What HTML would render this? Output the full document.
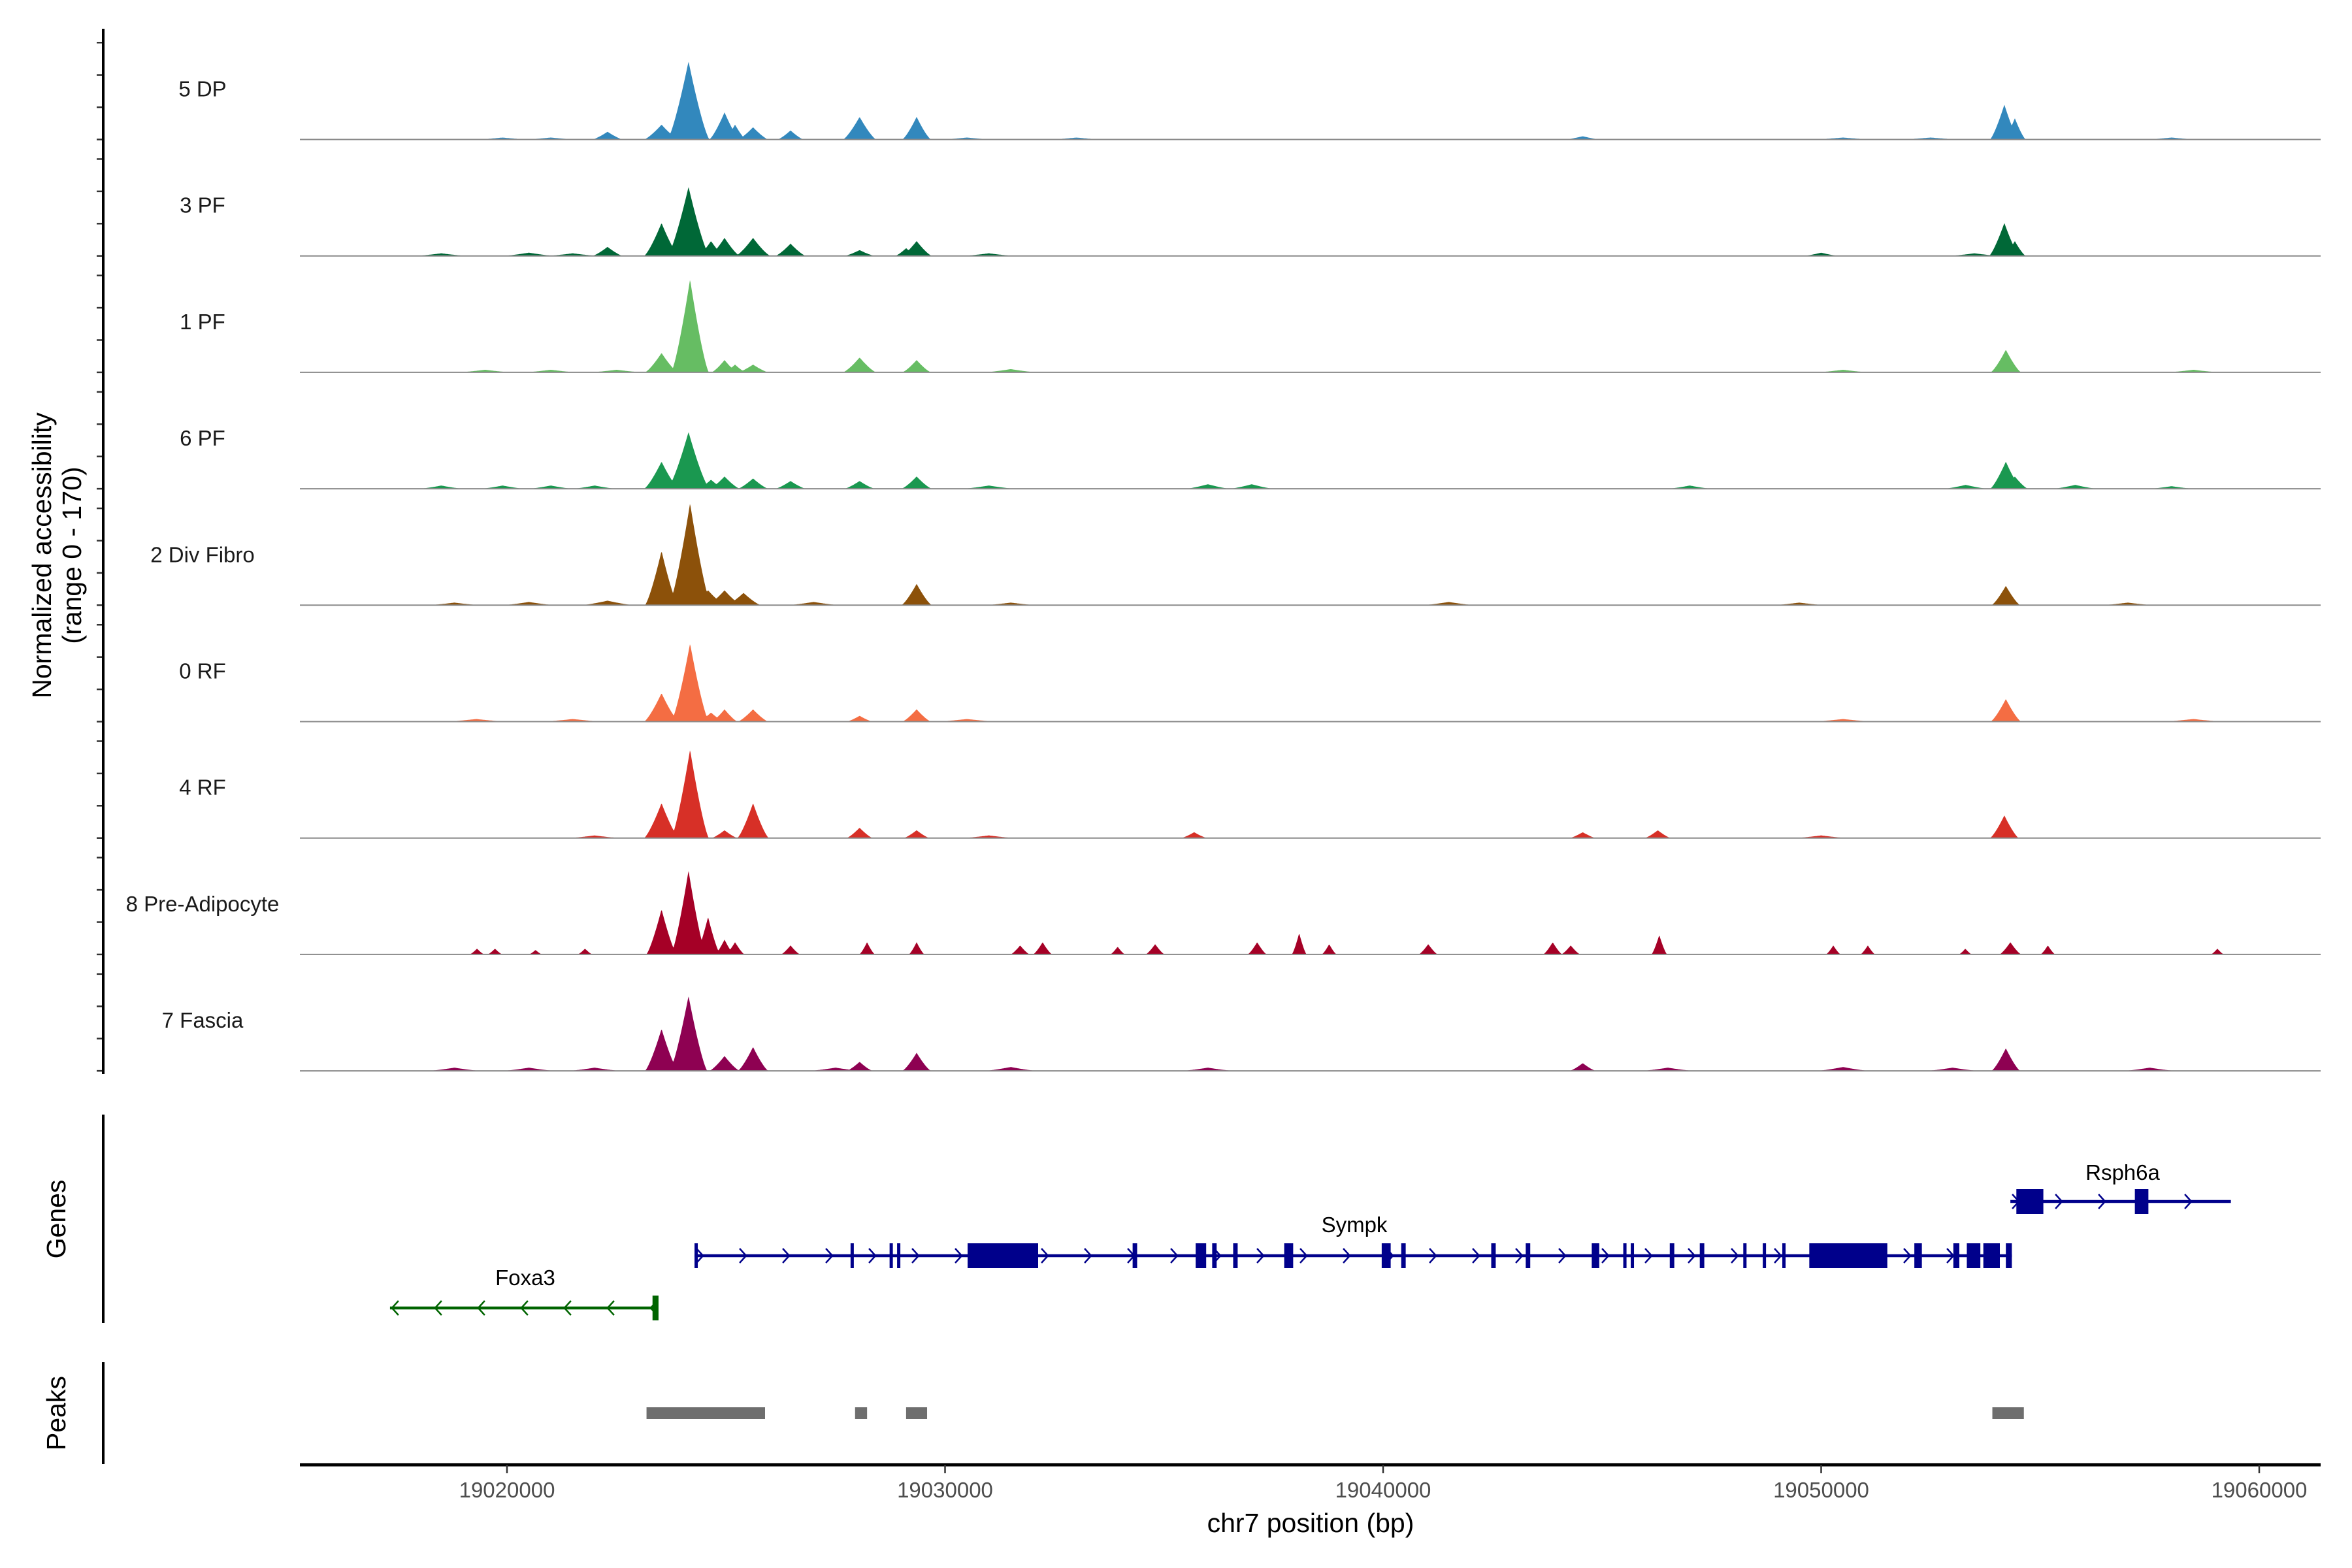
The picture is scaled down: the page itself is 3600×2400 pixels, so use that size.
<!DOCTYPE html>
<html><head><meta charset="utf-8"><style>
html,body{margin:0;padding:0;background:#fff}
svg{display:block}
text{font-family:"Liberation Sans",Arial,sans-serif}
</style></head><body>
<svg id="chart" xmlns="http://www.w3.org/2000/svg" width="3600" height="2400" viewBox="0 0 3600 2400">
<rect width="3600" height="2400" fill="#fff"/>
<g id="tracks"></g>
<g id="genes"></g>
<g id="peaks"></g>
<g id="axes"></g>
</svg>
<script>
const trackNames = ["5 DP","3 PF","1 PF","6 PF","2 Div Fibro","0 RF","4 RF","8 Pre-Adipocyte","7 Fascia"];
const trackColors = ["#3288bd","#006837","#66bd63","#1a9850","#8c510a","#f46d43","#d73027","#a50026","#8e0152"];
// peak centers (bp), heights (0-170 range), half-widths (bp) per track
const peakPos = [
 [19022295,19023528,19023836,19024144,19024966,19025206,19025617,19026473,19028049,19029351,19054182,19054421,19019900,19021000,19030500,19033000,19044557,19050500,19052500,19058000],
 [19022295,19023528,19024144,19024658,19024966,19025617,19026473,19028049,19029111,19029351,19054182,19054421,19018500,19020500,19021500,19031000,19050000,19053500],
 [19023528,19024179,19024966,19025206,19025617,19028049,19029351,19054216,19019500,19021000,19022500,19031500,19050500,19058500],
 [19023528,19024144,19024658,19024966,19025617,19026473,19028049,19029351,19054216,19054421,19018500,19019900,19021000,19022000,19031000,19036000,19037000,19047000,19053300,19055800,19058000],
 [19023528,19024179,19024590,19024966,19025400,19029351,19054216,19018800,19020500,19022295,19027000,19031500,19041500,19049500,19057000],
 [19023528,19024179,19024658,19024966,19025617,19028049,19029351,19054216,19019300,19021500,19030500,19050500,19058500],
 [19023528,19024179,19024966,19025617,19028049,19029351,19054182,19035687,19044557,19046270,19022000,19031000,19050000],
 [19023528,19024144,19024590,19024966,19025206,19026473,19028220,19029351,19054319,19019315,19019726,19020651,19021781,19031714,19032227,19033940,19034796,19037125,19038084,19038769,19041030,19043872,19044283,19046304,19050277,19051065,19053291,19055175,19059045],
 [19023528,19024144,19024966,19025617,19028049,19029351,19054216,19044557,19018800,19020500,19022000,19027500,19031500,19036000,19046500,19050500,19053000,19057500]
];
const peakHeight = [
 [12,23,14,121,42,23,19,14,35,35,54,33,3,3,3,3,5,3,3,3],
 [14,51,107,23,28,28,19,9,12,23,51,23,4,5,4,4,5,4],
 [30,144,19,12,12,23,19,35,4,4,4,5,4,4],
 [42,88,14,19,16,12,12,19,42,19,5,5,5,5,5,7,7,5,6,6,4],
 [84,158,23,23,19,33,30,4,5,7,5,4,5,4,4],
 [44,121,14,19,19,9,19,35,4,4,4,4,4],
 [54,137,12,54,16,12,35,9,9,12,4,4,4],
 [70,130,58,23,19,14,19,19,19,9,9,7,9,14,19,12,16,19,33,16,16,19,14,30,14,14,9,14,9],
 [65,116,23,37,14,28,35,12,5,5,5,5,6,5,5,6,5,5]
];
const peakWidth = [
 [350,400,250,480,350,250,350,300,380,330,330,250,600,600,600,600,400,700,700,600],
 [350,400,480,300,350,400,350,350,250,350,350,250,600,600,600,600,400,600],
 [380,430,300,250,350,380,330,350,600,600,600,600,600,600],
 [400,480,300,350,350,350,350,350,360,300,500,500,500,500,600,500,500,500,500,500,500],
 [380,480,400,400,400,350,330,600,600,600,600,600,600,600,600],
 [400,430,300,300,350,300,330,350,700,700,700,700,700],
 [400,430,300,360,300,300,330,300,300,300,600,600,600],
 [350,400,280,220,220,220,180,180,250,170,170,150,170,220,220,170,220,220,170,170,220,220,220,180,170,170,150,170,150],
 [380,430,350,350,300,330,330,300,600,600,600,600,600,600,600,600,600,600]
];
const xTicks = [19020000,19030000,19040000,19050000,19060000];
const yTicks = [0,50,100,150];
const sympkExonStart = [19024281,19027843,19028734,19028905,19030515,19034282,19035721,19036098,19036577,19037742,19039968,19040413,19042468,19043256,19044763,19045482,19045653,19046544,19047229,19048222,19048667,19049113,19049729,19052127,19053017,19053325,19053702,19054216];
const sympkExonEnd   = [19024350,19027912,19028802,19028974,19032125,19034385,19035961,19036200,19036680,19037947,19040173,19040516,19042571,19043359,19044934,19045551,19045722,19046647,19047332,19048291,19048736,19049181,19051510,19052299,19053154,19053634,19054079,19054353];
const rsphExonStart = [19054456,19057161];
const rsphExonEnd = [19055072,19057470];
const foxaExonStart = [19023322];
const foxaExonEnd = [19023459];
const peakRegionStart = [19023185,19027946,19029111,19053908];
const peakRegionEnd = [19025891,19028220,19029590,19054627];

const NS='http://www.w3.org/2000/svg';
const X0=459, X1=3552, BP0=19015272, BP1=19061402;
const xs = bp => X0 + (bp-BP0)*(X1-X0)/(BP1-BP0);
const base0=213.5, step=178.2, yPx=168/170;
function mk(tag, attrs, parent){const e=document.createElementNS(NS,tag);for(const k in attrs)e.setAttribute(k,attrs[k]);parent.appendChild(e);return e;}
const tracks=document.getElementById('tracks');
const axes=document.getElementById('axes');

trackNames.forEach((name,i)=>{
  const base=base0+i*step;
  const g=mk('g',{},tracks);
  
  
  let d='M'+X0+','+base;
  for(let px=X0; px<=X1; px+=1){
    const bp=BP0+(px-X0)*(BP1-BP0)/(X1-X0);
    let v=0;
    peakPos[i].forEach((c,k)=>{
      const dd=Math.abs(bp-c)/peakWidth[i][k];
      if(dd<1){const s=peakHeight[i][k]*Math.pow(1-dd,1.3);if(s>v)v=s;}
    });
    d+=' L'+px+','+(base-v*yPx).toFixed(1);
  }
  d+=' L'+X1+','+base+' Z';
  const p=mk('path',{d:d,fill:trackColors[i]},g);
  
  
  const bl=mk('line',{x1:X0,x2:X1,y1:base,y2:base,stroke:'#8a8a8a','stroke-width':2},g);
  
  
  const t=mk('text',{x:310,y:base-66,'font-size':33,'text-anchor':'middle',fill:'#1a1a1a'},g);
  t.textContent=name;
  
  
  yTicks.forEach(v=>{
    const tk=mk('line',{x1:148,x2:158,y1:base-v*yPx,y2:base-v*yPx,stroke:'#333','stroke-width':2.5},axes);
    
    
  });
});
let ya=mk('line',{x1:158,x2:158,y1:44,y2:1644,stroke:'#000','stroke-width':4},axes);


let yt=mk('text',{transform:'translate(78,850) rotate(-90)','font-size':41,'text-anchor':'middle',fill:'#000'},axes);
yt.textContent='Normalized accessibility';


let yt2=mk('text',{transform:'translate(124,850) rotate(-90)','font-size':41,'text-anchor':'middle',fill:'#000'},axes);
yt2.textContent='(range 0 - 170)';



const genes=document.getElementById('genes');
function gene(name, start, end, y, starts, ends, color, dir, lx, ly){
  const g=mk('g',{},genes);
  
  
  mk('line',{x1:xs(start),x2:xs(end),y1:y,y2:y,stroke:color,'stroke-width':4.5},g);
  for(let px=xs(start)+8; px<xs(end); px+=66){
    const a=dir>0?`M${px-5},${y-11} L${px+5},${y} L${px-5},${y+11}`:`M${px+5},${y-11} L${px-5},${y} L${px+5},${y+11}`;
    mk('path',{d:a,fill:'none',stroke:color,'stroke-width':2.5},g);
  }
  starts.forEach((s,k)=>{
    const x1=xs(s), w=Math.max(5,xs(ends[k])-x1);
    const r=mk('rect',{x:x1,y:y-19,width:w,height:38,fill:color},g);
    
    
  });
  const t=mk('text',{x:lx,y:ly,'font-size':33,'text-anchor':'middle',fill:'#000'},g);
  t.textContent=name;
  
  
}
gene('Sympk',19024281,19054353,1922,sympkExonStart,sympkExonEnd,'#00008b',1,2073,1886);
gene('Rsph6a',19054319,19059353,1839,rsphExonStart,rsphExonEnd,'#00008b',1,3249,1806);
gene('Foxa3',19017329,19023391,2002,foxaExonStart,foxaExonEnd,'#006400',-1,804,1967);
let ga=mk('line',{x1:158,x2:158,y1:1706,y2:2025,stroke:'#000','stroke-width':4},axes);


let gl=mk('text',{transform:'translate(100,1866) rotate(-90)','font-size':41,'text-anchor':'middle',fill:'#000'},axes);
gl.textContent='Genes';



const peaksG=document.getElementById('peaks');
peakRegionStart.forEach((s,k)=>{
  const r=mk('rect',{x:xs(s),y:2154,width:xs(peakRegionEnd[k])-xs(s),height:18,fill:'#6e6e6e'},peaksG);
  
  
});
let pa=mk('line',{x1:158,x2:158,y1:2085,y2:2241,stroke:'#000','stroke-width':4},axes);


let pl=mk('text',{transform:'translate(100,2163) rotate(-90)','font-size':41,'text-anchor':'middle',fill:'#000'},axes);
pl.textContent='Peaks';



let xa=mk('line',{x1:X0,x2:X1,y1:2242,y2:2242,stroke:'#000','stroke-width':5},axes);


xTicks.forEach(v=>{
  const tk=mk('line',{x1:xs(v),x2:xs(v),y1:2242,y2:2255,stroke:'#333','stroke-width':2.5},axes);
  
  
  const t=mk('text',{x:xs(v),y:2292,'font-size':33,'text-anchor':'middle',fill:'#4d4d4d'},axes);
  t.textContent=String(v);
  
  
});
let xt=mk('text',{x:2006,y:2345,'font-size':41,'text-anchor':'middle',fill:'#000'},axes);
xt.textContent='chr7 position (bp)';


</script>
</body></html>
